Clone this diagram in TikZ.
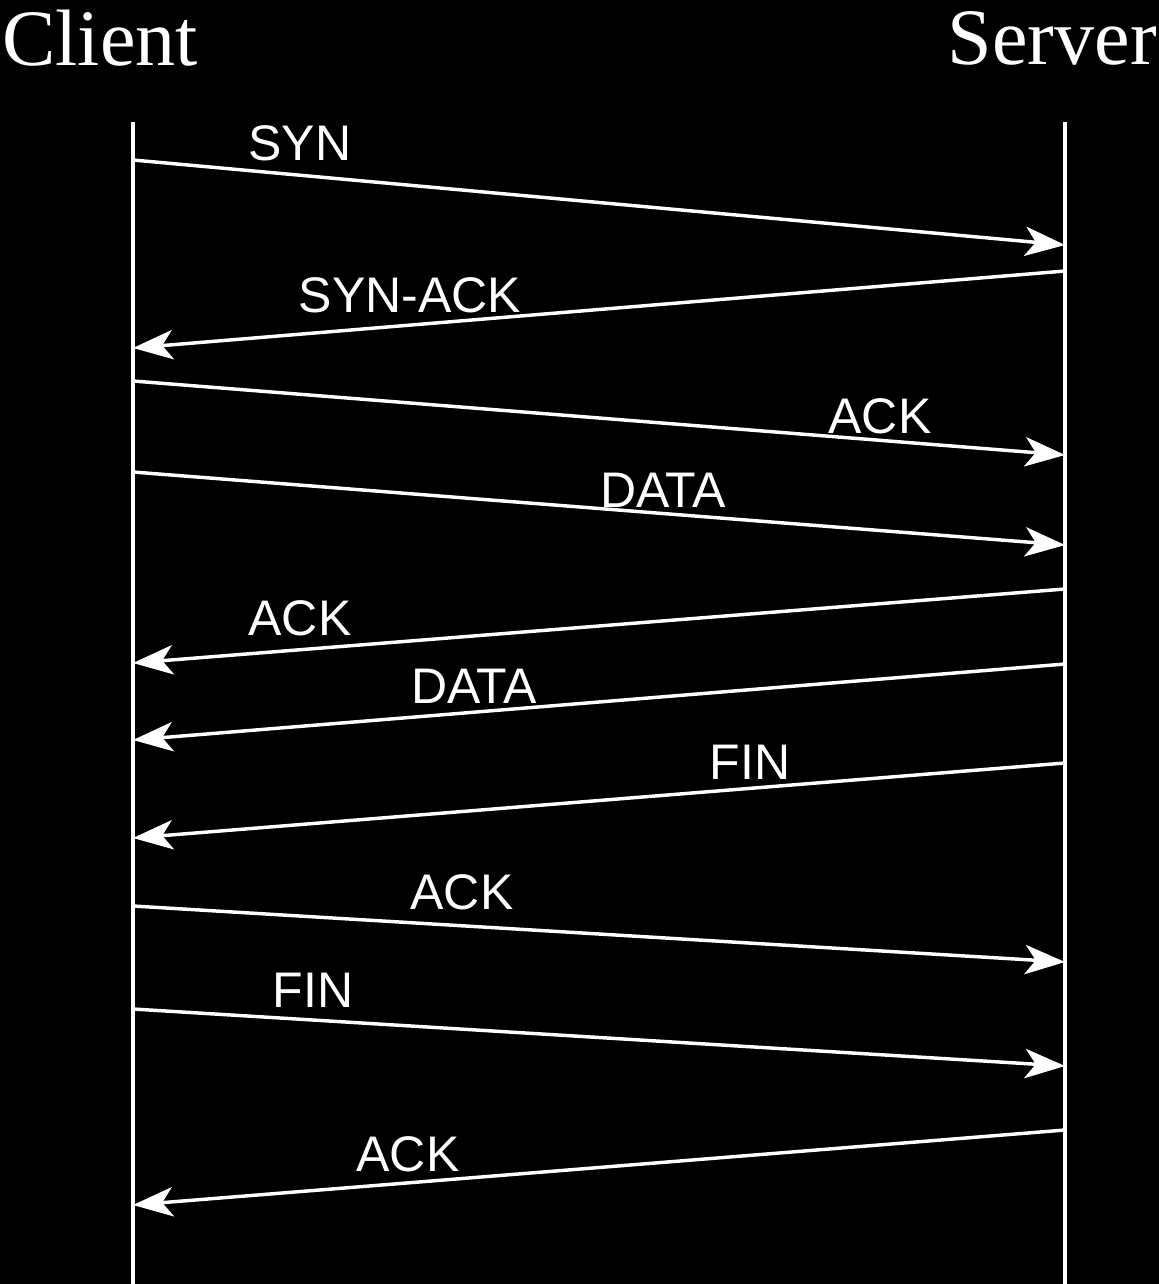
\documentclass[tikz,border=0pt]{standalone}
\usepackage{fontspec}
\setmainfont{Liberation Serif}
\newfontfamily\lab{Liberation Sans}
\usetikzlibrary{arrows.meta}
\begin{document}
\begin{tikzpicture}[x=0.75pt,y=-0.75pt,
  life/.style={white,line width=2.6pt},
  msg/.style={white,line width=2.6pt,-{Stealth[length=30pt,width=22pt,inset=8pt]}},
  lbl/.style={text=white,font=\lab\fontsize{37.5}{37.5}\selectfont,inner sep=0pt},
  ttl/.style={text=white,font=\fontsize{60}{60}\selectfont,inner sep=0pt}]
\fill[black] (0,0) rectangle (1159,1284);
\useasboundingbox (0,0) rectangle (1159,1284);
\node[ttl] (cl) at (100,38) {Client};
\node[ttl,anchor=east] (sv) at (1157,38) {Server};
\coordinate (ct) at (133,122); \coordinate (cb) at (133,1284);
\coordinate (st) at (1065,122); \coordinate (sb) at (1065,1284);
\draw[life] (ct) -- (cb); \draw[life] (st) -- (sb);
\foreach \i/\a/\b/\dir/\t/\lx/\ly in {
 1/160/245/r/SYN/300/143,
 2/271/348/l/SYN-ACK/410/295,
 3/381/455/r/ACK/880/416,
 4/472/545/r/DATA/663/490,
 5/589/663/l/ACK/300/618,
 6/664/740/l/DATA/474/686,
 7/763/838/l/FIN/750/762,
 8/906/962/r/ACK/462/892,
 9/1009/1066/r/FIN/313/990,
 10/1130/1205/l/ACK/408/1154}{
  \if r\dir
    \coordinate (s\i) at (133,\a); \coordinate (e\i) at (1065,\b);
  \else
    \coordinate (s\i) at (1065,\a); \coordinate (e\i) at (133,\b);
  \fi
  \draw[msg] (s\i) -- (e\i);
  \node[lbl] (l\i) at (\lx,\ly) {\t};
}
\end{tikzpicture}
\end{document}
